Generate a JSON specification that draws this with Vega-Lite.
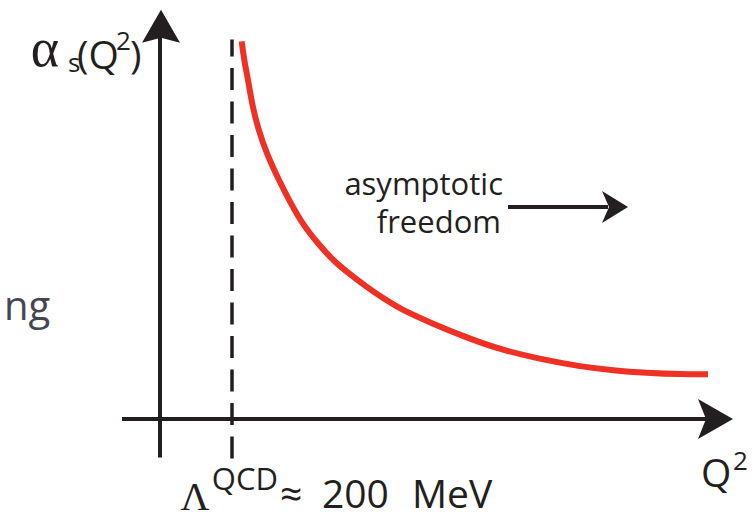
{
  "$schema": "https://vega.github.io/schema/vega-lite/v6.json",
  "width": 756,
  "height": 518,
  "padding": 0,
  "autosize": {"type": "fit", "contains": "padding"},
  "background": "white",
  "config": {"view": {"stroke": null}},
  "datasets": {
    "axes": [
      {"x": 160, "y": 56, "x2": 160, "y2": 482},
      {"x": 122, "y": 95, "x2": 706, "y2": 95},
      {"x": 508, "y": 309, "x2": 608, "y2": 309}
    ],
    "lambda": [{"x": 232, "y": 55, "x2": 232, "y2": 478}],
    "heads": [
      {"x": 161, "y": 491.5, "dir": "up"},
      {"x": 715.5, "y": 95, "dir": "right"},
      {"x": 615, "y": 309, "dir": "small"}
    ],
    "curve": [
      {"x": 241.7, "y": 476.3}, {"x": 244, "y": 458}, {"x": 248, "y": 438},
      {"x": 252, "y": 413}, {"x": 258, "y": 388}, {"x": 267, "y": 362},
      {"x": 278, "y": 338}, {"x": 290, "y": 314}, {"x": 303, "y": 291},
      {"x": 318, "y": 272}, {"x": 333, "y": 255}, {"x": 350, "y": 241},
      {"x": 367, "y": 228}, {"x": 383, "y": 217}, {"x": 400, "y": 206},
      {"x": 433, "y": 191}, {"x": 467, "y": 177}, {"x": 500, "y": 165},
      {"x": 547, "y": 154}, {"x": 580, "y": 148}, {"x": 613, "y": 144},
      {"x": 647, "y": 141.5}, {"x": 680, "y": 140}, {"x": 708, "y": 140}
    ],
    "alpha": [{"t": "α", "x": 45, "y": 451}],
    "serif": [{"t": "Λ", "x": 195, "y": 3}],
    "big": [
      {"t": "(Q", "x": 77, "y": 448},
      {"t": ")", "x": 130, "y": 448},
      {"t": "Q", "x": 701, "y": 26},
      {"t": "≈", "x": 280, "y": 5},
      {"t": "200", "x": 322, "y": 5},
      {"t": "MeV", "x": 412, "y": 5}
    ],
    "sup": [
      {"t": "s", "x": 68, "y": 445},
      {"t": "2", "x": 116, "y": 468},
      {"t": "2", "x": 733, "y": 43}
    ],
    "mid": [
      {"t": "QCD", "x": 278, "y": 23},
      {"t": "asymptotic", "x": 503, "y": 321},
      {"t": "freedom", "x": 501, "y": 283}
    ],
    "side": [{"t": "ng", "x": 4, "y": 195}]
  },
  "encoding": {
    "x": {"field": "x", "type": "quantitative", "scale": {"domain": [0, 756], "nice": false, "zero": false}, "axis": null},
    "y": {"field": "y", "type": "quantitative", "scale": {"domain": [0, 518], "nice": false, "zero": false}, "axis": null}
  },
  "layer": [
    {
      "data": {"name": "axes"},
      "mark": {"type": "rule", "color": "#231f20", "strokeWidth": 4},
      "encoding": {"x2": {"field": "x2"}, "y2": {"field": "y2"}}
    },
    {
      "data": {"name": "lambda"},
      "mark": {"type": "rule", "color": "#231f20", "strokeWidth": 3.5, "strokeDash": [22, 11.5]},
      "encoding": {"x2": {"field": "x2"}, "y2": {"field": "y2"}}
    },
    {
      "data": {"name": "heads"},
      "mark": {"type": "point", "filled": true, "size": 1600, "color": "#231f20", "opacity": 1, "strokeWidth": 0},
      "encoding": {
        "shape": {
          "field": "dir",
          "type": "nominal",
          "legend": null,
          "scale": {
            "domain": ["up", "right", "small"],
            "range": [
              "M0,-0.825L0.95,0.825L0,0.575L-0.95,0.825Z",
              "M0.875,0L-0.875,-1L-0.475,0L-0.875,1Z",
              "M0.65,0L-0.65,-0.8L-0.3,0L-0.65,0.8Z"
            ]
          }
        }
      }
    },
    {
      "data": {"name": "curve"},
      "mark": {"type": "line", "color": "#ee3124", "strokeWidth": 6, "interpolate": "basis"},
      "encoding": {}
    },
    {
      "data": {"name": "alpha"},
      "mark": {"type": "text", "font": "Liberation Serif", "fontSize": 54, "align": "center", "baseline": "alphabetic", "color": "#231f20"},
      "encoding": {"text": {"field": "t"}}
    },
    {
      "data": {"name": "serif"},
      "mark": {"type": "text", "font": "Liberation Serif", "fontSize": 40, "align": "center", "baseline": "alphabetic", "color": "#231f20"},
      "encoding": {"text": {"field": "t"}}
    },
    {
      "data": {"name": "big"},
      "mark": {"type": "text", "font": "Open Sans", "fontSize": 39, "align": "left", "baseline": "alphabetic", "color": "#231f20"},
      "encoding": {"text": {"field": "t"}}
    },
    {
      "data": {"name": "sup"},
      "mark": {"type": "text", "font": "Open Sans", "fontSize": 26, "align": "left", "baseline": "alphabetic", "color": "#231f20"},
      "encoding": {"text": {"field": "t"}}
    },
    {
      "data": {"name": "mid"},
      "mark": {"type": "text", "font": "Open Sans", "fontSize": 31, "align": "right", "baseline": "alphabetic", "color": "#231f20"},
      "encoding": {"text": {"field": "t"}}
    },
    {
      "data": {"name": "side"},
      "mark": {"type": "text", "font": "Open Sans", "fontSize": 40, "align": "left", "baseline": "alphabetic", "color": "#454552"},
      "encoding": {"text": {"field": "t"}}
    }
  ]
}
